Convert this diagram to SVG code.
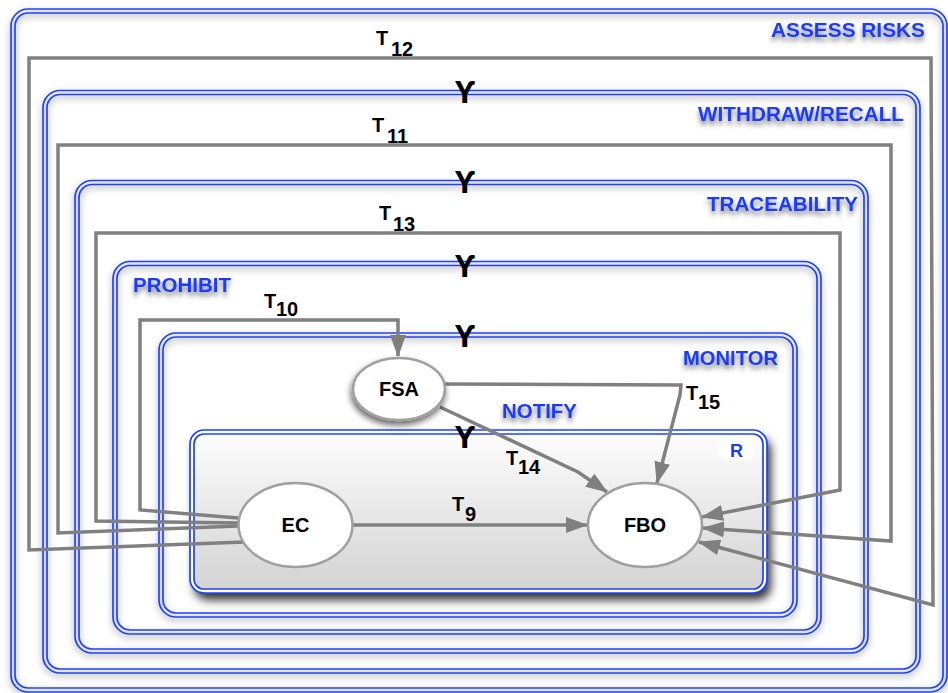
<svg xmlns="http://www.w3.org/2000/svg" width="948" height="693" viewBox="0 0 948 693">
<defs>
  <filter id="bs" x="-10%" y="-10%" width="120%" height="125%"><feDropShadow dx="0" dy="3" stdDeviation="3.5" flood-color="#000" flood-opacity="0.45"/></filter>
  <filter id="rs" x="-10%" y="-20%" width="125%" height="150%"><feDropShadow dx="4" dy="7" stdDeviation="5" flood-color="#000" flood-opacity="0.8"/></filter>
  <filter id="ts" x="-10%" y="-30%" width="120%" height="190%"><feDropShadow dx="0" dy="4" stdDeviation="2.5" flood-color="#000" flood-opacity="0.5"/></filter>
  <filter id="ns" x="-30%" y="-30%" width="160%" height="180%"><feDropShadow dx="-1" dy="4" stdDeviation="3" flood-color="#000" flood-opacity="0.6"/></filter>
  <linearGradient id="rg" x1="0" y1="0" x2="0" y2="1"><stop offset="0" stop-color="#fdfdfd"/><stop offset="1" stop-color="#d3d3d3"/></linearGradient>
  <marker id="ah" viewBox="0 0 22 16" refX="21" refY="8" markerWidth="22" markerHeight="16" markerUnits="userSpaceOnUse" orient="auto"><path d="M0,0 L22,8 L0,16 z" fill="#7f7f7f"/></marker>
</defs>
<style>
.ob{fill:none;stroke:#1f42ff;stroke-width:1.7}
.lbl{font-family:"Liberation Sans",Arial,sans-serif;font-weight:bold;font-size:20.5px;fill:#1a3aff}
.t{font-family:"Liberation Sans",Arial,sans-serif;font-weight:bold;font-size:20px;fill:#000}
.c{fill:none;stroke:#808080;stroke-width:3.5;stroke-linejoin:miter}
.n{fill:#fff;stroke:#a0a0a0;stroke-width:2.5}
.nt{font-family:"Liberation Sans",Arial,sans-serif;font-weight:bold;font-size:20px;text-anchor:middle;fill:#000}
.up{font-family:"Noto Sans","DejaVu Sans",sans-serif;font-weight:bold;font-size:31px;text-anchor:middle;fill:#000}
</style>
<rect width="948" height="693" fill="#fff"/>

<g id="assess-risks">
  <g filter="url(#bs)"><rect class="ob" x="11" y="9" width="936" height="683" rx="17"/><rect class="ob" x="15" y="13" width="928" height="675" rx="13"/></g>
  <text class="lbl" x="771" y="37" textLength="154" lengthAdjust="spacingAndGlyphs" filter="url(#ts)">ASSESS RISKS</text>
</g>
<g id="withdraw-recall">
  <g filter="url(#bs)"><rect class="ob" x="43" y="90.5" width="877" height="582.5" rx="17"/><rect class="ob" x="47" y="94.5" width="869" height="574.5" rx="13"/></g>
  <text class="lbl" x="698" y="121" textLength="206" lengthAdjust="spacingAndGlyphs" filter="url(#ts)">WITHDRAW/RECALL</text>
</g>
<g id="traceability">
  <g filter="url(#bs)"><rect class="ob" x="75" y="180.5" width="793" height="472.5" rx="17"/><rect class="ob" x="79" y="184.5" width="785" height="464.5" rx="13"/></g>
  <text class="lbl" x="707" y="211" textLength="151" lengthAdjust="spacingAndGlyphs" filter="url(#ts)">TRACEABILITY</text>
</g>
<g id="prohibit">
  <g filter="url(#bs)"><rect class="ob" x="113" y="261.5" width="708" height="372.5" rx="17"/><rect class="ob" x="117" y="265.5" width="700" height="364.5" rx="13"/></g>
  <text class="lbl" x="133" y="291.5" textLength="98" lengthAdjust="spacingAndGlyphs" filter="url(#ts)">PROHIBIT</text>
</g>
<g id="monitor">
  <g filter="url(#bs)"><rect class="ob" x="159" y="333" width="638" height="284" rx="17"/><rect class="ob" x="163" y="337" width="630" height="276" rx="13"/></g>
  <text class="lbl" x="683" y="365" textLength="95" lengthAdjust="spacingAndGlyphs" filter="url(#ts)">MONITOR</text>
  <text class="lbl" x="502" y="418" textLength="75" lengthAdjust="spacingAndGlyphs" filter="url(#ts)">NOTIFY</text>
</g>
<g id="r-box">
  <rect x="190" y="430" width="577" height="163" rx="14" fill="#fff" filter="url(#rs)"/>
  <rect x="194" y="434" width="569" height="155" rx="10" fill="url(#rg)"/>
  <rect class="ob" x="190" y="430" width="577" height="163" rx="14"/>
  <rect class="ob" x="194" y="434" width="569" height="155" rx="10"/>
  <rect x="718" y="442" width="37" height="19" rx="9.5" fill="#fff" opacity="0.9"/>
  <text class="lbl" x="730" y="457" style="font-size:18px">R</text>
</g>

<g id="connectors">
  <path class="c" d="M353,525 L587,525" marker-end="url(#ah)"/>
  <path class="c" d="M238,518 L140,510 L140,320 L398,320 L398,356" marker-end="url(#ah)"/>
  <path class="c" d="M238,523 L96,521 L96,233 L840,233 L840,490 L702,517" marker-end="url(#ah)"/>
  <path class="c" d="M238,526 L58,533 L58,145 L891,145 L891,541 L703,528" marker-end="url(#ah)"/>
  <path class="c" d="M245,542 L29,550 L29,58 L931,58 L933,605 L699,542" marker-end="url(#ah)"/>
  <path class="c" d="M445,384 L681,385 L680,395 L657,483" marker-end="url(#ah)"/>
  <path class="c" d="M440,407 L578,472 L607,492" marker-end="url(#ah)"/>
  <text class="t" x="376" y="45">T<tspan x="391" y="56">12</tspan></text>
  <text class="t" x="372" y="132">T<tspan x="387" y="143">11</tspan></text>
  <text class="t" x="379" y="220">T<tspan x="393" y="231">13</tspan></text>
  <text class="t" x="264" y="308">T<tspan x="276" y="316">10</tspan></text>
  <text class="t" x="686" y="400">T<tspan x="698" y="409">15</tspan></text>
  <text class="t" x="506" y="465">T<tspan x="518" y="474">14</tspan></text>
  <text class="t" x="452" y="511">T<tspan x="465" y="521">9</tspan></text>
</g>

<g id="upsilons">
  <text class="up" x="465" y="103">ϒ</text>
  <text class="up" x="465" y="193">ϒ</text>
  <text class="up" x="465" y="277">ϒ</text>
  <text class="up" x="465" y="347">ϒ</text>
  <text class="up" x="465" y="448">ϒ</text>
</g>

<g id="FSA">
  <ellipse class="n" cx="399" cy="389" rx="46" ry="31" filter="url(#ns)"/>
  <text class="nt" x="399" y="396">FSA</text>
</g>
<g id="EC">
  <ellipse class="n" cx="295.5" cy="525" rx="57" ry="42"/>
  <text class="nt" x="295.5" y="532">EC</text>
</g>
<g id="FBO">
  <ellipse class="n" cx="645" cy="525" rx="57" ry="42"/>
  <text class="nt" x="645" y="532">FBO</text>
</g>
</svg>
